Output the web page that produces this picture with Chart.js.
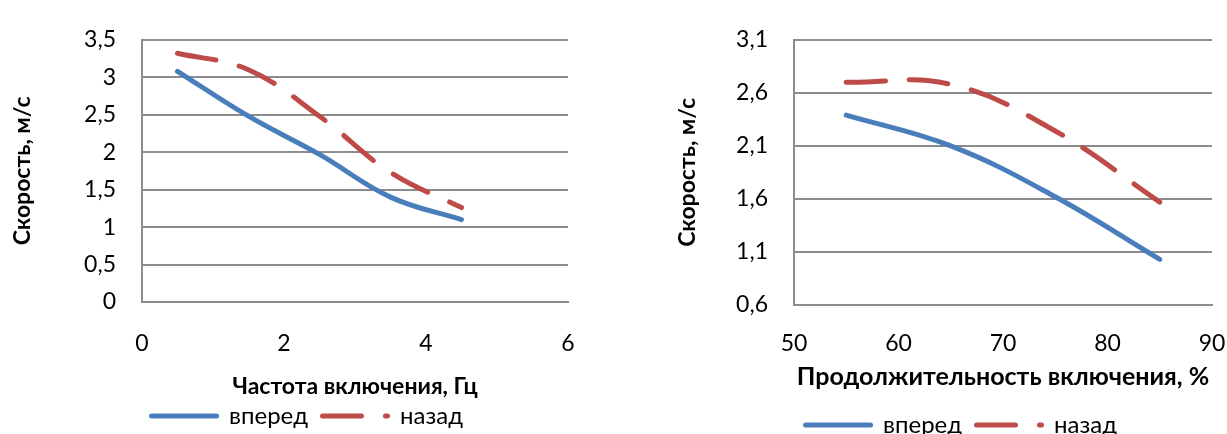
<!DOCTYPE html>
<html>
<head>
<meta charset="utf-8">
<script src="https://cdn.jsdelivr.net/npm/chart.js@4/dist/chart.umd.min.js"></script>
<style>
  html, body { margin: 0; padding: 0; background: #ffffff; overflow: hidden; width: 1227px; height: 434px; }
  .box { position: absolute; top: 0; }
  #wrapL { left: 0px; width: 614px; height: 438px; }
  #wrapR { left: 662px; width: 598px; height: 447px; }
</style>
</head>
<body>
<div class="box" id="wrapL"><canvas id="cL" width="614" height="438"></canvas></div>
<div class="box" id="wrapR"><canvas id="cR" width="598" height="447"></canvas></div>
<script>
// ---- Left chart data ----
const leftX = [0.5, 1.5, 2.5, 3.5, 4.5];
const leftForward = [3.08, 2.48, 1.97, 1.40, 1.10];
const leftBackward = [3.32, 3.10, 2.48, 1.73, 1.26];
const leftYTicks = ['0', '0,5', '1', '1,5', '2', '2,5', '3', '3,5'];
const leftXTicks = ['0', '2', '4', '6'];

// ---- Right chart data ----
const rightX = [55, 65, 75, 85];
const rightForward = [2.39, 2.10, 1.62, 1.03];
const rightBackward = [2.70, 2.68, 2.24, 1.57];
const rightYTicks = ['0,6', '1,1', '1,6', '2,1', '2,6', '3,1'];
const rightXTicks = ['50', '60', '70', '80', '90'];

const seriesNames = ['вперед', 'назад'];
const yTitle = 'Скорость, м/с';
const leftXTitle = 'Частота включения, Гц';
const rightXTitle = 'Продолжительность включения, %';

const FONT = 'Lato, "Open Sans", sans-serif';
const GRID = '#8c8c8c';
const BLUE = '#4a7ebb';
const RED = '#be4b48';
const LINE_W = 5;
const RED_DASH = [39, 24];

// legend line sample (swatch) drawn in the dataset's own style
function swatch(color, dash) {
  const c = document.createElement('canvas');
  c.width = 72; c.height = 8;
  const g = c.getContext('2d');
  g.strokeStyle = color; g.lineWidth = LINE_W; g.lineCap = 'round';
  g.setLineDash(dash);
  g.beginPath(); g.moveTo(3.5, 4); g.lineTo(68.5, 4); g.stroke();
  return c;
}
const swatches = [swatch(BLUE, []), swatch(RED, RED_DASH)];

function makeChart(id, cfg) {
  const fwd = cfg.x.map((x, i) => ({x: x, y: cfg.fwd[i]}));
  const bwd = cfg.x.map((x, i) => ({x: x, y: cfg.bwd[i]}));
  return new Chart(document.getElementById(id), {
    type: 'line',
    data: {
      datasets: [
        { label: seriesNames[0], data: fwd, borderColor: BLUE, backgroundColor: BLUE,
          borderWidth: LINE_W, borderCapStyle: 'round', borderJoinStyle: 'round',
          pointRadius: 0, tension: 0.4, fill: false },
        { label: seriesNames[1], data: bwd, borderColor: RED, backgroundColor: RED,
          borderWidth: LINE_W, borderCapStyle: 'round', borderJoinStyle: 'round', borderDash: RED_DASH,
          pointRadius: 0, tension: 0.4, fill: false }
      ]
    },
    options: {
      responsive: false,
      animation: false,
      devicePixelRatio: 1,
      layout: { padding: { top: 25, left: 0, right: 0, bottom: 0 } },
      plugins: {
        tooltip: { enabled: false },
        legend: {
          display: true,
          position: 'bottom',
          labels: {
            usePointStyle: true,
            pointStyleWidth: 66,
            padding: 14,
            color: '#000',
            font: { family: FONT, size: 24 },
            generateLabels: function(chart) {
              const items = Chart.defaults.plugins.legend.labels.generateLabels(chart);
              items.forEach(it => { it.pointStyle = swatches[it.datasetIndex]; });
              return items;
            }
          }
        }
      },
      scales: {
        x: {
          type: 'linear',
          min: cfg.xmin, max: cfg.xmax,
          grid: { display: false, drawTicks: false },
          border: { display: true, color: GRID, width: 2 },
          ticks: {
            stepSize: cfg.xstep, padding: cfg.xTickPad, color: '#000', maxRotation: 0,
            font: { family: FONT, size: 23 },
            callback: (v, i) => cfg.xTicks[i]
          },
          title: {
            display: true, text: cfg.xTitle, color: '#000',
            font: { family: FONT, size: cfg.xTitleSize, weight: 'bold' },
            padding: { top: 0, bottom: cfg.xTitlePadB }
          },
          afterFit: s => { s.height = cfg.xH; }
        },
        y: {
          type: 'linear',
          position: 'left',
          min: cfg.ymin, max: cfg.ymax,
          grid: { display: true, drawTicks: false, color: GRID, lineWidth: 2 },
          border: { display: true, color: GRID, width: 2 },
          ticks: {
            stepSize: 0.5, padding: 26, color: '#000',
            font: { family: FONT, size: 23 },
            callback: (v, i) => cfg.yTicks[i]
          },
          title: {
            display: true, text: yTitle, color: '#000',
            font: { family: FONT, size: 23, weight: 'bold' },
            padding: { top: cfg.yTitlePadT, bottom: 0 }
          },
          afterFit: s => { s.width = cfg.yW; }
        },
        yr: {
          type: 'linear',
          position: 'right',
          display: true,
          grid: { display: false, drawTicks: false },
          border: { display: false },
          ticks: { display: false },
          afterFit: s => { s.width = cfg.rW; }
        }
      }
    }
  });
}

makeChart('cL', {
  x: leftX, fwd: leftForward, bwd: leftBackward,
  xmin: 0, xmax: 6, xstep: 2, ymin: 0, ymax: 3.5,
  xTicks: leftXTicks, yTicks: leftYTicks, xTitle: leftXTitle, xTitleSize: 23,
  xTickPad: 28, xTitlePadB: -10, xH: 88, yW: 142, rW: 46, yTitlePadT: 9
});

makeChart('cR', {
  x: rightX, fwd: rightForward, bwd: rightBackward,
  xmin: 50, xmax: 90, xstep: 10, ymin: 0.6, ymax: 3.1,
  xTicks: rightXTicks, yTicks: rightYTicks, xTitle: rightXTitle, xTitleSize: 25,
  xTickPad: 25, xTitlePadB: 7, xH: 94, yW: 132, rW: 48, yTitlePadT: 12
});
</script>
</body>
</html>
